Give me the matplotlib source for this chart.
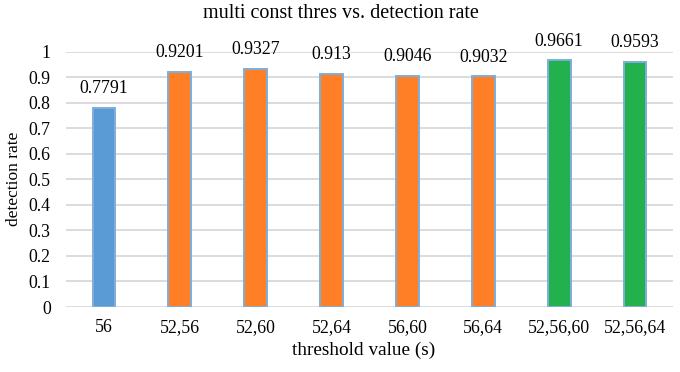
import matplotlib
matplotlib.use("Agg")
import matplotlib.pyplot as plt

categories = ["56", "52,56", "52,60", "52,64", "56,60", "56,64", "52,56,60", "52,56,64"]
values = [0.7791, 0.9201, 0.9327, 0.913, 0.9046, 0.9032, 0.9661, 0.9593]
value_labels = ["0.7791", "0.9201", "0.9327", "0.913", "0.9046", "0.9032", "0.9661", "0.9593"]
bar_colors = ["#5B9BD5", "#FF7F27", "#FF7F27", "#FF7F27", "#FF7F27", "#FF7F27", "#22B14C", "#22B14C"]
y_ticks = [0, 0.1, 0.2, 0.3, 0.4, 0.5, 0.6, 0.7, 0.8, 0.9, 1]
y_tick_labels = ["0", "0.1", "0.2", "0.3", "0.4", "0.5", "0.6", "0.7", "0.8", "0.9", "1"]

plt.rcParams['font.family'] = ['Liberation Serif', 'DejaVu Serif']
FS = 12.8

fig = plt.figure(figsize=(6.8, 3.72), dpi=100)
ax = fig.add_axes([66/680, 1 - 307/372, (673 - 66)/680, (307 - 51.5)/372])

x = list(range(len(categories)))
bars = ax.bar(x, values, width=0.30, color=bar_colors, edgecolor="#7DAEDD", linewidth=1.4, zorder=3)

for xi, v, lab in zip(x, values, value_labels):
    ax.annotate(lab, (xi, v), xytext=(0, 19), textcoords="offset pixels",
                ha="center", va="center", fontsize=FS, color="black")

ax.set_xlim(-0.5, len(categories) - 0.5)
ax.set_ylim(0, 1)
ax.set_yticks(y_ticks)
ax.set_yticklabels(y_tick_labels, fontsize=FS)
ax.set_xticks(x)
ax.set_xticklabels(categories, fontsize=FS)
ax.tick_params(axis="both", length=0)
ax.tick_params(axis="y", pad=11)
ax.tick_params(axis="x", pad=9)
ax.yaxis.grid(True, color="#D9D9D9", linewidth=1.3, zorder=0)
ax.set_axisbelow(True)
for s in ax.spines.values():
    s.set_visible(False)

ax.set_ylabel("detection rate", fontsize=12.5, va="center")
ax.yaxis.set_label_coords((14 - 66) / 607, 0.5)
ax.set_xlabel("threshold value (s)", fontsize=13.9, va="center")
ax.xaxis.set_label_coords((364 - 66) / 607, -(350 - 307) / 255.5)
fig.text(340.5/680, 1 - 14/372, "multi const thres vs. detection rate", ha="center", va="center", fontsize=14.5)

fig.savefig("out.png", dpi=100)
